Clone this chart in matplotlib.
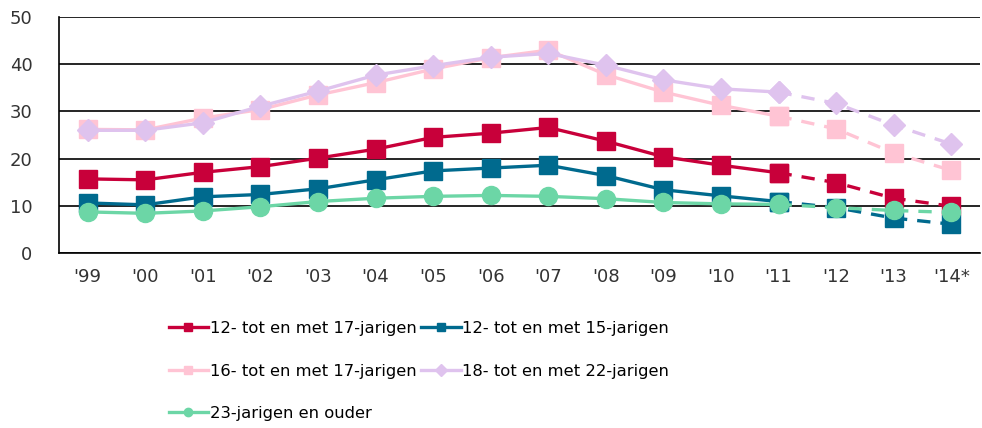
import numpy as np
import matplotlib.pyplot as plt

years = ["'99", "'00", "'01", "'02", "'03", "'04", "'05", "'06", "'07", "'08",
         "'09", "'10", "'11", "'12", "'13", "'14*"]

r12_17 = [15.7, 15.5, 17.1, 18.3, 20.1, 22.0, 24.5, 25.4, 26.6, 23.7, 20.4, 18.6, 17.0, 14.9, 11.6, 9.9]
r12_15 = [10.6, 10.2, 11.9, 12.4, 13.6, 15.5, 17.4, 18.0, 18.6, 16.4, 13.4, 12.1, 10.9, 9.6, 7.4, 6.1]
r16_17 = [26.2, 26.1, 28.6, 30.4, 33.5, 36.1, 39.0, 41.4, 43.0, 37.8, 34.1, 31.3, 29.0, 26.3, 21.2, 17.5]
r18_22 = [26.0, 26.0, 27.6, 31.1, 34.3, 37.7, 39.7, 41.5, 42.3, 39.8, 36.7, 34.8, 34.1, 31.7, 27.1, 23.1]
r23 = [8.7, 8.4, 8.9, 9.8, 10.9, 11.6, 12.0, 12.2, 12.0, 11.5, 10.7, 10.4, 10.3, 9.6, 9.0, 8.6]

series = [
    ("12- tot en met 17-jarigen", r12_17, '#C8003A', 's', 13),
    ("12- tot en met 15-jarigen", r12_15, '#006A8E', 's', 13),
    ("16- tot en met 17-jarigen", r16_17, '#FFC4D4', 's', 13),
    ("18- tot en met 22-jarigen", r18_22, '#DFC3EE', 'D', 11.5),
    ("23-jarigen en ouder", r23, '#6CD6A6', 'o', 13),
]

split = years.index("'11")
x = np.arange(len(years))

fig = plt.figure(figsize=(9.82, 4.28), dpi=100)
ax = fig.add_axes([0.060, 0.409, 0.938, 0.551])

for label, vals, col, mk, ms in series:
    vals = np.array(vals)
    ax.plot(x[:split + 1], vals[:split + 1], color=col, lw=2.4,
            marker=mk, ms=ms, label=label)
    ax.plot(x[split:], vals[split:], color=col, lw=2.4, ls=(0, (4, 3)),
            marker=mk, ms=ms)

ax.set_xlim(-0.5, len(years) - 0.5)
ax.set_ylim(0, 50)
ax.set_yticks(range(0, 51, 10))
ax.set_xticks(x)
ax.set_xticklabels(years)
ax.grid(axis='y', color='black', lw=1.2)
ax.set_axisbelow(True)
ax.tick_params(length=0, labelsize=13, colors='#333333')
ax.tick_params(axis='y', pad=19)
ax.tick_params(axis='x', pad=11)
for s in ['top', 'right']:
    ax.spines[s].set_visible(False)
ax.spines['left'].set_linewidth(1.2)
ax.spines['bottom'].set_linewidth(1.2)

# legend fills column-wise, so reorder to get rows as in the original
order = [0, 2, 4, 1, 3]
legend_handles = []
for i in order:
    label, vals, col, mk, ms = series[i]
    lh, = plt.plot([], [], color=col, lw=2.4, marker=mk, ms=6, label=label)
    legend_handles.append(lh)
fig.legend(legend_handles, [series[i][0] for i in order], ncol=2,
           loc='upper left', bbox_to_anchor=(0.165, 0.265), frameon=False,
           fontsize=11.8, handlelength=2.4, handletextpad=0.1,
           columnspacing=0.3, labelspacing=1.68, borderaxespad=0)

plt.savefig('out.png')
